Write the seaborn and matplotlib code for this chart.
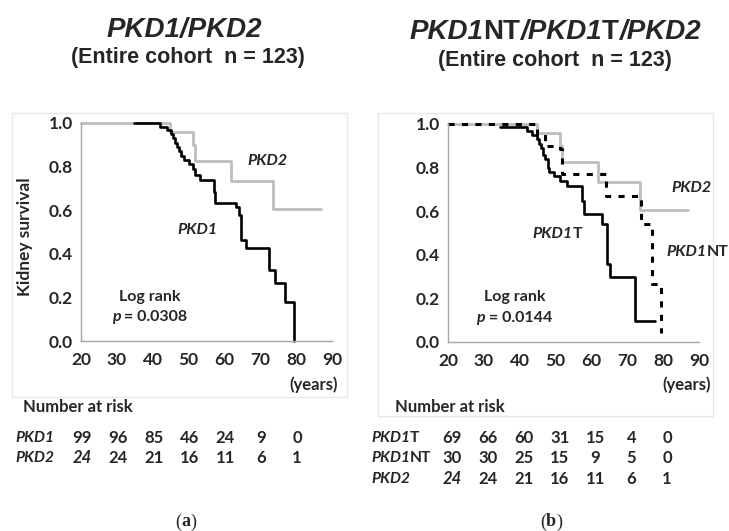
import matplotlib
matplotlib.use("Agg")
import matplotlib.pyplot as plt
import matplotlib.transforms as mtransforms
from matplotlib.patches import Rectangle
from matplotlib.text import Annotation
from matplotlib.ticker import MultipleLocator, FormatStrFormatter
import numpy as np
import pandas as pd
import seaborn as sns

# ---------------------------------------------------------------------------
# Data (Kaplan-Meier step points)
# ---------------------------------------------------------------------------
a_pkd1_years = [34.8, 42.1, 44.1, 45.2, 45.7, 46.2, 46.7, 47.2, 47.9, 48.6, 50.2,
                51.1, 51.7, 53.3, 57.1, 57.5, 63.1, 64.0, 64.7, 65.9, 72.4, 74.0,
                77.0, 79.5]
a_pkd1_surv = [1.0, 0.98, 0.966, 0.95, 0.93, 0.91, 0.89, 0.87, 0.85, 0.83, 0.81,
               0.79, 0.76, 0.74, 0.685, 0.635, 0.615, 0.58, 0.465, 0.425, 0.325,
               0.265, 0.18, 0.0]

pkd2_years = [20.0, 44.7, 51.1, 51.9, 61.8, 73.6, 87.0]
pkd2_surv = [1.0, 0.958, 0.90, 0.824, 0.732, 0.605, 0.605]

b_pkd1t_years = [34.6, 42.0, 43.4, 44.8, 45.3, 45.9, 46.6, 47.1, 47.9, 48.3, 49.7,
                 51.1, 53.1, 57.3, 57.8, 62.9, 64.3, 65.2, 72.2, 77.8]
b_pkd1t_surv = [0.985, 0.97, 0.95, 0.93, 0.91, 0.89, 0.86, 0.84, 0.80, 0.78, 0.76,
                0.74, 0.715, 0.648, 0.585, 0.54, 0.358, 0.30, 0.098, 0.098]

b_pkd1nt_years = [20.0, 44.8, 47.1, 51.1, 51.8, 64.0, 73.9, 77.0, 79.4]
b_pkd1nt_surv = [1.0, 0.955, 0.90, 0.885, 0.77, 0.668, 0.54, 0.267, 0.04]

risk_years = [20, 30, 40, 50, 60, 70, 80]
risk_a_pkd1 = [99, 96, 85, 46, 24, 9, 0]
risk_a_pkd2 = [24, 24, 21, 16, 11, 6, 1]
risk_b_pkd1t = [69, 66, 60, 31, 15, 4, 0]
risk_b_pkd1nt = [30, 30, 25, 15, 9, 5, 0]
risk_b_pkd2 = [24, 24, 21, 16, 11, 6, 1]

BODY = ["Lato", "DejaVu Sans"]
TITLE = ["Liberation Sans", "DejaVu Sans"]
SERIF = ["Liberation Serif", "DejaVu Serif"]
GRAY = "#bdbdbd"
AXGRAY = "#a6a6a6"
FS = 12

W, H = 729, 531

sns.set_style("white")
plt.rcParams["font.family"] = BODY
plt.rcParams["font.weight"] = "bold"

fig = plt.figure(figsize=(W / 100, H / 100), dpi=100)


def fx(px):
    return px / W


def fy(py):
    return 1 - py / H


def rich(x, y, pieces, size, transform=None, ha="center", family=BODY):
    """Draw a run of text pieces (text, italic, weight) side by side."""
    if transform is None:
        transform = fig.transFigure
    arts = []
    prev = None
    for piece in pieces:
        txt, it = piece[0], piece[1]
        weight = piece[2] if len(piece) > 2 else "bold"
        style = "italic" if it else "normal"
        if prev is None:
            t = fig.text(x, y, txt, transform=transform, ha="left", va="center",
                         fontsize=size, fontstyle=style, fontweight=weight,
                         family=family)
        else:
            t = Annotation(txt, xy=(1, 0.5), xycoords=prev, xytext=(0, 0),
                           textcoords="offset points", ha="left", va="center",
                           fontsize=size, fontstyle=style, fontweight=weight,
                           family=family)
            fig.add_artist(t)
        arts.append(t)
        prev = t
    if ha != "left":
        r = fig.canvas.get_renderer()
        width = sum(a.get_window_extent(r).width for a in arts)
        shift = width / 2 if ha == "center" else width
        dx, dy = transform.transform((x, y))
        arts[0].set_position(transform.inverted().transform((dx - shift, dy)))
    return arts


def km_panel(ax, curves):
    for years, surv, color, lw, dashes in curves:
        df = pd.DataFrame({"years": years, "surv": surv})
        line = sns.lineplot(data=df, x="years", y="surv", ax=ax, color=color,
                            linewidth=lw, drawstyle="steps-post", estimator=None,
                            sort=False, clip_on=False)
        if dashes:
            line.lines[-1].set_dashes(dashes)
    ax.set_xlim(20, 90)
    ax.set_ylim(0, 1.0)
    ax.xaxis.set_major_locator(MultipleLocator(10))
    ax.xaxis.set_minor_locator(MultipleLocator(5))
    ax.yaxis.set_major_locator(MultipleLocator(0.2))
    ax.yaxis.set_minor_locator(MultipleLocator(0.1))
    ax.yaxis.set_major_formatter(FormatStrFormatter("%.1f"))
    ax.set_xlabel("")
    ax.set_ylabel("")
    sns.despine(ax=ax)
    for s in ("left", "bottom"):
        ax.spines[s].set_color(AXGRAY)
        ax.spines[s].set_linewidth(1.0)
    ax.tick_params(which="both", direction="out", color=AXGRAY, width=1)
    ax.tick_params(which="major", length=4, labelsize=12.5, pad=2)
    ax.tick_params(axis="x", which="major", pad=4)
    ax.tick_params(which="minor", length=2.5)
    for lab in ax.get_xticklabels() + ax.get_yticklabels():
        lab.set_fontweight("bold")
    ax.set_facecolor("none")


# light frames round each panel
fig.patches.append(Rectangle((fx(12), fy(397)), fx(347 - 12), (397 - 113) / H,
                             transform=fig.transFigure, fill=False,
                             edgecolor="#e8e8e8", linewidth=1))
fig.patches.append(Rectangle((fx(378), fy(416)), fx(713 - 378), (416 - 113) / H,
                             transform=fig.transFigure, fill=False,
                             edgecolor="#e8e8e8", linewidth=1))

ax_a = fig.add_axes([fx(81), fy(341), fx(332 - 81), (341 - 123) / H])
ax_b = fig.add_axes([fx(448), fy(342), fx(699 - 448), (342 - 124) / H])

km_panel(ax_a, [
    (pkd2_years, pkd2_surv, GRAY, 2.0, None),
    (a_pkd1_years, a_pkd1_surv, "black", 1.9, None),
])
km_panel(ax_b, [
    (pkd2_years, pkd2_surv, GRAY, 2.0, None),
    (b_pkd1nt_years, b_pkd1nt_surv, "black", 2.2, (2, 2.4)),
    (b_pkd1t_years, b_pkd1t_surv, "black", 1.9, None),
])

# titles
rich(fx(184), fy(30), [("PKD1/PKD2", True)], 20, family=TITLE)
rich(fx(188), fy(58), [("(Entire cohort  n = 123)", False)], 15.5, family=TITLE)
rich(fx(555), fy(32), [("PKD1", True), ("NT", False), ("/PKD1", True),
                       ("T", False), ("/PKD2", True)], 20, family=TITLE)
rich(fx(555), fy(60), [("(Entire cohort  n = 123)", False)], 15.5, family=TITLE)

# in-plot labels
rich(71.9, 0.826, [("PKD2", True)], 11.5, transform=ax_a.transData)
rich(52.4, 0.509, [("PKD1", True)], 11.5, transform=ax_a.transData)
rich(39.2, 0.20, [("Log rank", False)], 11.5, transform=ax_a.transData)
rich(39.1, 0.109, [("p", True), (" = 0.0308", False)], 11.5, transform=ax_a.transData)

rich(88.0, 0.705, [("PKD2", True)], 11.5, transform=ax_b.transData)
rich(89.5, 0.411, [("PKD1", True), ("NT", False)], 11.5, transform=ax_b.transData)
rich(50.5, 0.494, [("PKD1", True), ("T", False)], 11.5, transform=ax_b.transData)
rich(38.5, 0.207, [("Log rank", False)], 11.5, transform=ax_b.transData)
rich(38.4, 0.109, [("p", True), (" = 0.0144", False)], 11.5, transform=ax_b.transData)

fig.text(fx(25), fy(237), "Kidney survival", rotation=90, ha="center",
         va="center", fontsize=12.5, fontweight="bold")
for cx in (314, 687):
    fig.text(fx(cx), fy(385), "(years)", ha="center", va="center", fontsize=FS,
             fontweight="bold")
for lx in (23, 395):
    fig.text(fx(lx), fy(407), "Number at risk", ha="left", va="center",
             fontsize=FS, fontweight="bold")


def risk_row(ax, x_label, y_px, label_pieces, counts, italic_first=False, dx=0):
    rich(fx(x_label), fy(y_px), label_pieces, 11.2, ha="left")
    tr = mtransforms.blended_transform_factory(ax.transData, fig.transFigure)
    tr = tr + mtransforms.ScaledTranslation(dx / 100, 0, fig.dpi_scale_trans)
    for i, (yr, n) in enumerate(zip(risk_years, counts)):
        style = "italic" if (italic_first and i == 0) else "normal"
        fig.text(yr, fy(y_px), str(n), transform=tr, ha="center", va="center",
                 fontsize=FS, fontweight="bold", fontstyle=style)


risk_row(ax_a, 15, 438, [("PKD1", True)], risk_a_pkd1, dx=1)
risk_row(ax_a, 15, 458, [("PKD2", True)], risk_a_pkd2, italic_first=True, dx=1)
risk_row(ax_b, 371, 438, [("PKD1", True), ("T", False)], risk_b_pkd1t, dx=4)
risk_row(ax_b, 371, 458, [("PKD1", True), ("NT", False)], risk_b_pkd1nt, dx=4)
risk_row(ax_b, 371, 479, [("PKD2", True)], risk_b_pkd2, italic_first=True, dx=4)

# panel letters
for cx, letter in ((186, "a"), (551, "b")):
    rich(fx(cx), fy(522), [("(", False, "normal"), (letter, False, "bold"),
                           (")", False, "normal")], 13, family=SERIF)

fig.savefig("out.png", dpi=100)
